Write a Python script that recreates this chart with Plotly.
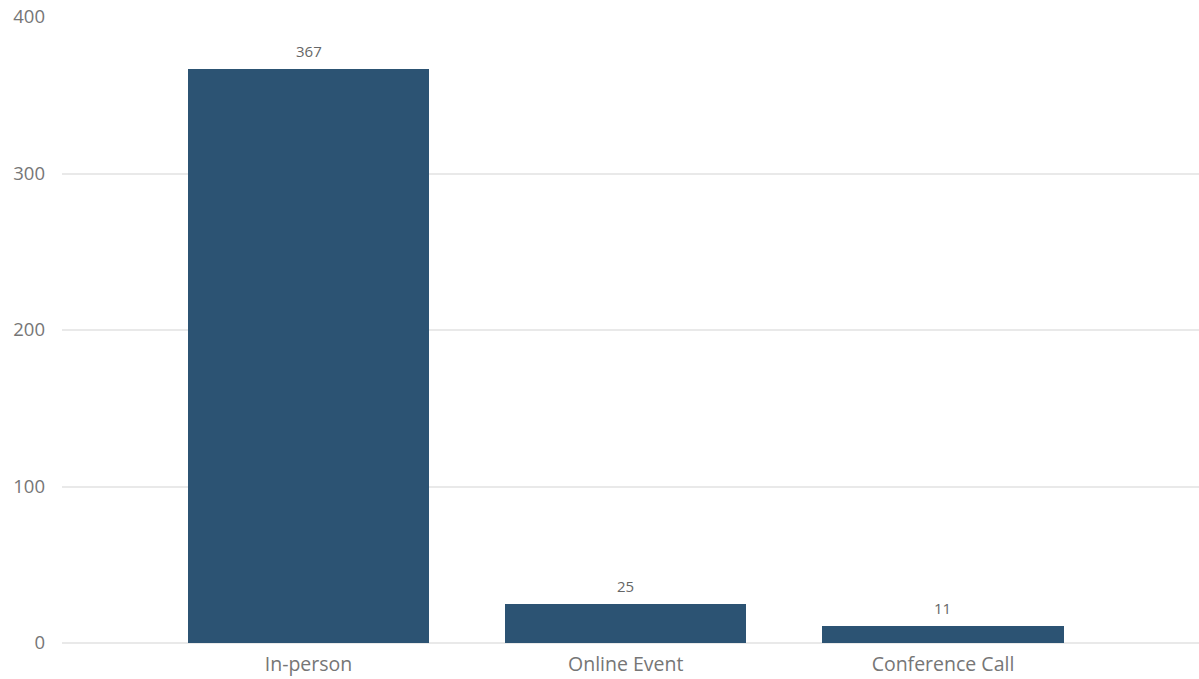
import plotly.graph_objects as go

categories = ["In-person", "Online Event", "Conference Call"]
counts = [367, 25, 11]
y_ticks = [0, 100, 200, 300, 400]

BAR_COLOR = "#2c5373"
TEXT_COLOR = "#767676"
GRID_COLOR = "#e9e9e9"
FONT = "Open Sans, Noto Sans, sans-serif"

fig = go.Figure(
    go.Bar(
        x=list(range(len(categories))),
        y=counts,
        width=0.76,
        marker=dict(color=BAR_COLOR, line=dict(width=0)),
        hoverinfo="skip",
    )
)

# value labels above each bar
for i, v in enumerate(counts):
    fig.add_annotation(
        x=i, y=v, text=str(v), showarrow=False, yanchor="bottom", yshift=6,
        font=dict(family=FONT, size=15, color="#666666"),
    )

fig.update_layout(
    width=1199, height=679,
    margin=dict(l=62, r=0, t=17, b=36),
    paper_bgcolor="white", plot_bgcolor="white",
    showlegend=False,
    bargap=0,
    font=dict(family=FONT, color=TEXT_COLOR),
)
fig.update_xaxes(
    range=[-0.777, 2.807],
    tickmode="array", tickvals=list(range(len(categories))), ticktext=categories,
    tickfont=dict(size=19.5, color=TEXT_COLOR),
    showgrid=False, zeroline=False, showline=False, ticks="",
    ticklabelstandoff=7,
)
fig.update_yaxes(
    range=[0, 400],
    tickmode="array", tickvals=y_ticks,
    tickfont=dict(size=18.5, color=TEXT_COLOR),
    showgrid=True, gridcolor=GRID_COLOR, gridwidth=1.5,
    zeroline=True, zerolinecolor=GRID_COLOR, zerolinewidth=1.5,
    showline=False, ticks="",
    ticklabelstandoff=16,
)

fig.write_html("out.html")
